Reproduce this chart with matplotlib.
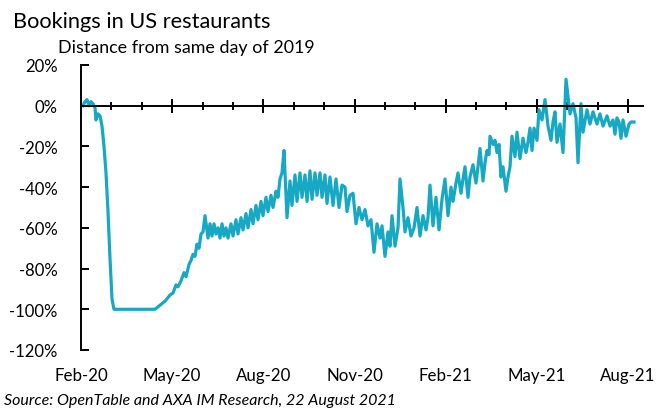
import matplotlib
matplotlib.use("Agg")
import matplotlib.pyplot as plt
import numpy as np

# ---- data ----
# day offset from 18 Feb 2020, value in % vs same day of 2019
day_offset = [0, 2, 4, 6, 8, 10, 12, 13, 15, 17, 19, 21, 23, 25, 27, 29, 31,
              72, 77, 82, 87, 90, 93, 95, 98, 101, 103, 106, 108, 110, 112, 114, 116, 118, 120,
              122, 125, 127, 129, 131, 133, 135, 137, 139, 141, 143, 145, 148, 150, 153, 155,
              158, 160, 163, 165, 168, 170, 173, 175, 178, 180, 183, 185, 188, 190, 193, 195,
              197, 199, 201, 204, 207, 209, 212, 214, 217, 219, 222, 224, 227, 229, 232, 234,
              237, 239, 242, 244, 247, 250, 253, 256, 259, 262, 264, 267, 270, 273, 276, 279,
              282, 285, 288, 291, 294, 297, 299, 302, 305, 307, 309, 312, 315, 317, 320, 322,
              325, 328, 331, 334, 337, 340, 343, 345, 347, 350, 353, 356, 359, 362, 365, 368,
              370, 373, 375, 378, 380, 382, 385, 387, 390, 393, 395, 397, 400, 402, 404, 406,
              407, 410, 412, 414, 416, 418, 420, 423, 425, 427, 429, 432, 434, 437, 440, 443,
              445, 447, 449, 451, 454, 456, 459, 462, 465, 468, 470, 472, 474, 477, 480, 483,
              487, 490, 493, 495, 498, 500, 504, 507, 510, 514, 517, 520, 524, 527, 530, 532,
              534, 536, 538, 540, 543, 546, 548, 551]
bookings = [0, 2, 3, 0, 2, 1, -1, -7, -4, -5, -10, -20, -33, -52, -75, -95, -100,
            -100, -98, -96, -93, -92, -88, -89, -86, -82, -84, -78, -76, -73, -74, -68, -70, -63, -62,
            -54, -65, -58, -64, -58, -63, -60, -65, -58, -64, -60, -65, -58, -64, -56, -63,
            -55, -61, -53, -60, -51, -58, -49, -56, -47, -54, -45, -52, -44, -50, -42, -45,
            -36, -33, -22, -55, -37, -49, -34, -47, -33, -45, -34, -47, -32, -46, -33, -44,
            -33, -45, -34, -48, -35, -49, -36, -50, -39, -40, -52, -44, -43, -58, -50, -56,
            -51, -59, -56, -72, -58, -65, -59, -74, -62, -69, -54, -69, -60, -36, -50, -62,
            -55, -64, -60, -50, -64, -54, -61, -55, -39, -59, -45, -61, -46, -36, -54, -40,
            -47, -38, -33, -43, -36, -30, -45, -35, -29, -38, -30, -21, -37, -28, -22, -24,
            -15, -19, -17, -23, -19, -35, -30, -42, -35, -30, -15, -25, -13, -26, -16, -23,
            -18, -11, -22, -11, -17, -2, -7, 3, -10, -17, -8, -3, -18, -9, -23, 13,
            -4, 1, -6, -28, 1, -13, -2, -9, -3, -9, -4, -10, -5, -10, -7, -14,
            -6, -8, -16, -7, -15, -9, -8, -8]
n = min(len(day_offset), len(bookings))
day_offset = day_offset[:n]
bookings = bookings[:n]

month_labels = ["Feb-20", "May-20", "Aug-20", "Nov-20", "Feb-21", "May-21", "Aug-21"]
y_ticks = [20, 0, -20, -40, -60, -80, -100, -120]

title = "Bookings in US restaurants"
subtitle = "Distance from same day of 2019"
source = "Source: OpenTable and AXA IM Research, 22 August 2021"

# ---- style ----
plt.rcParams['font.family'] = ['Lato', 'DejaVu Sans']
line_color = '#17A8C4'

fig = plt.figure(figsize=(6.72, 4.10), dpi=100)
ax = fig.add_axes([81/672, 1-351/410, (643-81)/672, (351-66)/410])

ax.plot(day_offset, bookings, color=line_color, lw=2.3, solid_joinstyle='round')

x0 = -2.0
month_px = 30.39
ax.set_xlim(x0, x0 + 562)
ax.set_ylim(-120, 20)

major = [x0 + 3 * month_px * i for i in range(len(month_labels))]
minor = [x0 + month_px * i for i in range(1, 19) if i % 3 != 0]

for s in ['top', 'right']:
    ax.spines[s].set_visible(False)
ax.spines['bottom'].set_position(('data', 0))
ax.spines['bottom'].set_linewidth(1.4)
ax.spines['left'].set_linewidth(1.4)

ax.set_xticks(major)
ax.set_xticks(minor, minor=True)
ax.tick_params(axis='x', which='major', direction='inout', length=10, width=1.4,
               labelbottom=False)
ax.tick_params(axis='x', which='minor', direction='inout', length=6, width=1.4)

ax.set_yticks(y_ticks)
ax.set_yticklabels([f"{v}%" for v in y_ticks])
ax.tick_params(axis='y', direction='in', length=6, width=1.4, pad=17,
               labelsize=12, labelcolor='#000000')

sec = ax.secondary_xaxis(0.0)
sec.set_xticks(major)
sec.set_xticklabels(month_labels)
sec.tick_params(axis='x', length=0, pad=12, labelsize=12.2)
sec.spines['bottom'].set_visible(False)

fig.text(13/672, 1-28/410, title, fontsize=15.7, va='baseline', ha='left')
fig.text(58/672, 1-53/410, subtitle, fontsize=12.9, va='baseline', ha='left')
fig.text(4/672, 1-405/410, source, fontsize=11.5, style='italic', va='baseline', ha='left')

fig.savefig('out.png', dpi=100)
